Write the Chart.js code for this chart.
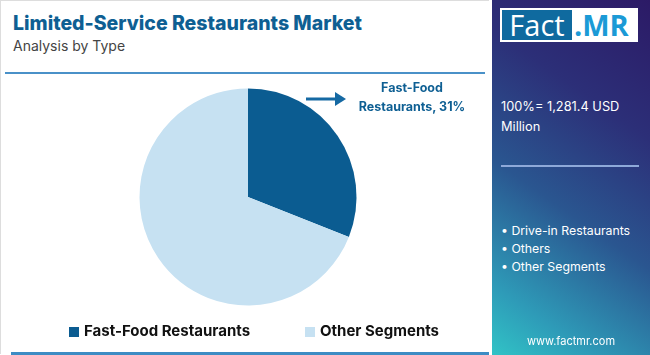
<!DOCTYPE html>
<html>
<head>
<meta charset="utf-8">
<script src="https://cdn.jsdelivr.net/npm/chart.js@4.4.1/dist/chart.umd.min.js"></script>
<style>
  html,body{margin:0;padding:0;width:650px;height:355px;overflow:hidden;background:#fff;font-family:Inter,"Open Sans",sans-serif;}
  #left{position:absolute;left:0;top:0;width:489px;height:354px;border-left:1px solid #ddd;border-top:1px solid #ddd;box-sizing:border-box;}
  #title{position:absolute;left:12px;top:10px;font-size:19.5px;font-weight:800;color:#0e5f93;white-space:nowrap;letter-spacing:0px;}
  #sub{position:absolute;left:12px;top:36px;font-size:14px;color:#444;white-space:nowrap;}
  #topline{position:absolute;left:5px;top:72px;width:480px;height:2px;background:#4a91c8;}
  #botline{position:absolute;left:11px;top:352px;width:478px;height:3px;background:#3d8cc4;}
  #cv{position:absolute;left:0;top:0;}
  #lbl{position:absolute;left:342px;top:78px;width:140px;text-align:center;font-size:12.5px;font-weight:700;color:#0e5f93;line-height:19px;}
  #arrow{position:absolute;left:304px;top:90px;}
  #legend{position:absolute;top:321px;left:0;width:490px;height:20px;font-size:15px;font-weight:700;color:#111;}
  .li{position:absolute;top:0;white-space:nowrap;}
  .sw{display:inline-block;width:10px;height:10px;margin-right:5px;vertical-align:-1px;}
  #right{position:absolute;left:492px;top:0;width:158px;height:355px;
    background:linear-gradient(215deg,#2c1a66 0%,#2c2f78 30%,#2a5690 58%,#2e9bb8 85%,#31c3c6 100%);}
  #logo{position:absolute;left:8px;top:8px;width:138px;height:34px;background:#fff;}
  #fact{position:absolute;left:2px;top:2px;width:70px;height:30px;background:#0f6a9f;color:#fff;font-size:29px;line-height:30px;text-align:center;font-family:"Open Sans",sans-serif;}
  #mr{position:absolute;left:74px;top:2px;height:30px;color:#1b9ad6;font-size:29px;line-height:30px;font-weight:700;font-family:"Open Sans",sans-serif;}
  #tot{position:absolute;left:9px;top:97px;color:#fff;font-size:12.8px;line-height:20px;white-space:nowrap;}
  #rline{position:absolute;left:9px;top:165px;width:138px;height:2px;background:#8ea9d9;}
  #bul{position:absolute;left:9px;top:222px;color:#fff;font-size:12.3px;line-height:18px;white-space:nowrap;}
  #www{position:absolute;left:0;top:334px;width:158px;text-align:center;color:#fff;font-size:11px;}
</style>
</head>
<body>
<script>
const categories = ["Fast-Food Restaurants", "Other Segments"];
const shares = [31, 69];
const colors = ["#0b5c91", "#c6e1f2"];
const totalText = "100%= 1,281.4 USD Million";
const otherItems = ["Drive-in Restaurants", "Others", "Other Segments"];
</script>
<div id="left">
  <div id="title">Limited-Service Restaurants Market</div>
  <div id="sub">Analysis by Type</div>
</div>
<div id="topline"></div>
<canvas id="cv" width="490" height="355"></canvas>
<svg id="arrow" width="44" height="18"><line x1="2" y1="9" x2="32" y2="9" stroke="#1569a3" stroke-width="3"/><polygon points="31,2 42,9 31,16" fill="#1569a3"/></svg>
<div id="lbl"></div>
<div id="legend"></div>
<div id="botline"></div>
<div id="right">
  <div id="logo"><div id="fact">Fact</div><div id="mr">.MR</div></div>
  <div id="tot"></div>
  <div id="rline"></div>
  <div id="bul"></div>
  <div id="www">www.factmr.com</div>
</div>
<script>
document.getElementById('lbl').innerHTML = "Fast-Food<br>Restaurants, " + shares[0] + "%";
document.getElementById('tot').innerHTML = "100%= 1,281.4 USD<br>Million";
document.getElementById('bul').innerHTML = otherItems.map(s => "• " + s).join("<br>");
const lg = document.getElementById('legend');
const pos = [69, 305];
categories.forEach((c,i) => {
  const d = document.createElement('div');
  d.className = 'li';
  d.style.left = pos[i] + 'px';
  d.innerHTML = '<span class="sw" style="background:'+colors[i]+'"></span>' + c;
  lg.appendChild(d);
});
new Chart(document.getElementById('cv'), {
  type: 'pie',
  data: { labels: categories, datasets: [{ data: shares, backgroundColor: colors, borderWidth: 0 }] },
  options: {
    responsive: false, animation: false,
    layout: { padding: { left: 139.5, right: 133.5, top: 88.5, bottom: 49.5 } },
    plugins: { legend: { display: false }, tooltip: { enabled: false } }
  }
});
</script>
</body>
</html>
